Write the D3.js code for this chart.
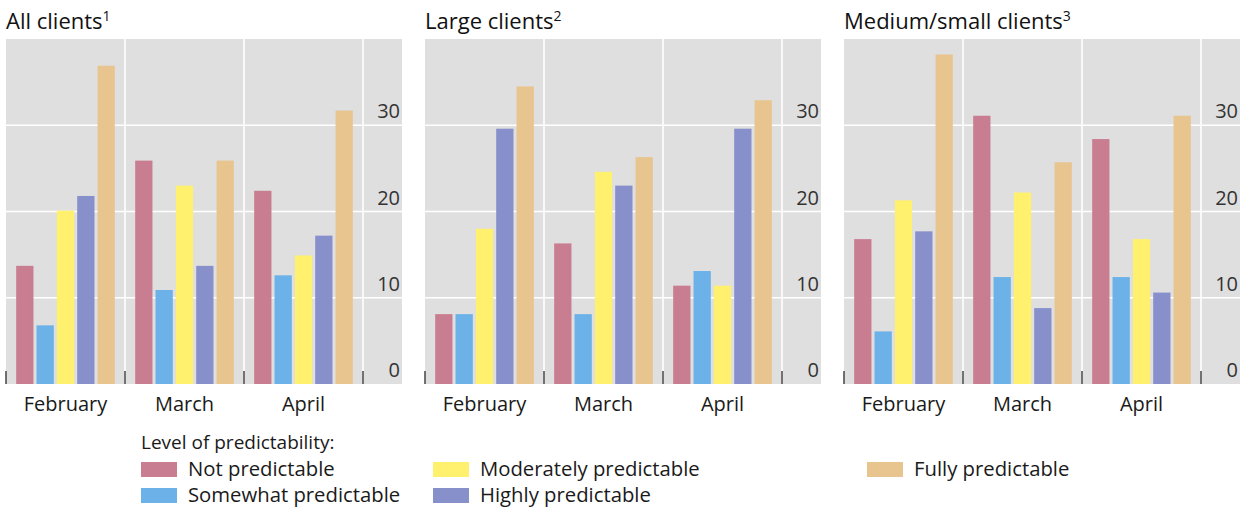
<!DOCTYPE html>
<html>
<head>
<meta charset="utf-8">
<script src="https://cdn.jsdelivr.net/npm/d3@7"></script>
<style>
  html, body { margin: 0; padding: 0; background: #fff; }
  svg { display: block; font-family: "Open Sans", "Noto Sans", sans-serif; }
</style>
</head>
<body>
<svg id="chart" width="1247" height="511"></svg>
<script>
// Survey shares (%) by month and level of predictability
const months = ["February", "March", "April"];
const levels = ["Not predictable", "Somewhat predictable", "Moderately predictable", "Highly predictable", "Fully predictable"];
const levelColors = ["#c97d91", "#6cb2e8", "#fff06e", "#8890cc", "#e8c48e"];

// One row per month, one value per level
const allClients = [
  [13.7, 6.8, 20.1, 21.8, 36.9],
  [25.9, 10.9, 23.0, 13.7, 25.9],
  [22.4, 12.6, 14.9, 17.2, 31.7]
];
const largeClients = [
  [8.1, 8.1, 18.0, 29.6, 34.5],
  [16.3, 8.1, 24.6, 23.0, 26.3],
  [11.4, 13.1, 11.4, 29.6, 32.9]
];
const mediumSmallClients = [
  [16.8, 6.1, 21.3, 17.7, 38.2],
  [31.1, 12.4, 22.2, 8.8, 25.7],
  [28.4, 12.4, 16.8, 10.6, 31.1]
];

const panelTitles = ["All clients", "Large clients", "Medium/small clients"];
const panelNotes = ["1", "2", "3"];
const panelData = [allClients, largeClients, mediumSmallClients];
const yTicks = [0, 10, 20, 30];
const yMax = 40;

const svg = d3.select("#chart");

// Layout
const panelLeft = [6, 425, 844];
const catWidth = 357;      // width of the month area
const labelStrip = 39;     // strip on the right that carries the y labels
const plotTop = 39, plotBottom = 384;

const y = d3.scaleLinear().domain([0, yMax]).range([plotBottom, plotTop]);

panelData.forEach((rows, p) => {
  const g = svg.append("g").attr("transform", `translate(${panelLeft[p]},0)`);
  const fullW = catWidth + labelStrip;

  const x = d3.scaleBand().domain(months).range([0, catWidth]).padding(0);
  const xi = d3.scaleBand().domain(levels).range([0, x.bandwidth()])
    .paddingInner(0.15).paddingOuter(0.5);

  // background
  g.append("rect").attr("x", 0).attr("y", plotTop).attr("width", fullW)
    .attr("height", plotBottom - plotTop).attr("fill", "#dfdfdf");

  // horizontal gridlines
  g.selectAll(".hgrid").data(yTicks.filter(d => d > 0)).join("line")
    .attr("x1", 0).attr("x2", fullW)
    .attr("y1", d => y(d)).attr("y2", d => y(d))
    .attr("stroke", "#fff").attr("stroke-width", 1.6);

  // vertical separators between months and before the label strip
  const seps = months.slice(1).map(m => x(m)).concat([catWidth]);
  g.selectAll(".vgrid").data(seps).join("line")
    .attr("x1", d => d).attr("x2", d => d)
    .attr("y1", plotTop).attr("y2", plotBottom)
    .attr("stroke", "#fff").attr("stroke-width", 1.6);

  // bars
  rows.forEach((vals, mi) => {
    g.append("g").attr("transform", `translate(${x(months[mi])},0)`)
      .selectAll("rect").data(vals).join("rect")
      .attr("x", (d, i) => xi(levels[i]))
      .attr("width", xi.bandwidth())
      .attr("y", d => y(d))
      .attr("height", d => y(0) - y(d))
      .attr("fill", (d, i) => levelColors[i]);
  });

  // bottom ticks at month boundaries
  const tickPos = [0].concat(seps);
  g.selectAll(".xtick").data(tickPos).join("line")
    .attr("x1", d => d).attr("x2", d => d)
    .attr("y1", plotBottom - 13).attr("y2", plotBottom)
    .attr("stroke", "#444").attr("stroke-width", 1.5);

  // month labels
  const xAxis = d3.axisBottom(x).tickSize(0).tickPadding(13);
  const ax = g.append("g").attr("transform", `translate(0,${plotBottom})`).call(xAxis);
  ax.select(".domain").remove();
  ax.selectAll("text").attr("font-size", 20).attr("fill", "#1a1a1a")
    .attr("font-family", "Open Sans, sans-serif");

  // y labels inside the right strip, sitting above their gridlines
  g.selectAll(".ylab").data(yTicks).join("text")
    .attr("x", fullW - 2).attr("y", d => y(d) - 7)
    .attr("text-anchor", "end").attr("font-size", 20).attr("fill", "#333")
    .text(d => d);

  // title with footnote marker
  const t = g.append("text").attr("x", 0).attr("y", 29)
    .attr("font-size", 22).attr("fill", "#111");
  t.append("tspan").text(panelTitles[p]);
  t.append("tspan").attr("font-size", 14).attr("dy", -8).text(panelNotes[p]);
});

// Legend
const legend = svg.append("g");
legend.append("text").attr("x", 141).attr("y", 449).attr("font-size", 19)
  .attr("fill", "#1a1a1a").text("Level of predictability:");

const legendPos = [
  [141, 462], [141, 488],
  [433, 462], [433, 488],
  [867, 462]
];
levels.forEach((lv, i) => {
  const [lx, ly] = legendPos[i];
  legend.append("rect").attr("x", lx).attr("y", ly).attr("width", 36).attr("height", 15)
    .attr("fill", levelColors[i]);
  legend.append("text").attr("x", lx + 47).attr("y", ly + 14)
    .attr("font-size", 20.3).attr("fill", "#1a1a1a").text(lv);
});
</script>
</body>
</html>
